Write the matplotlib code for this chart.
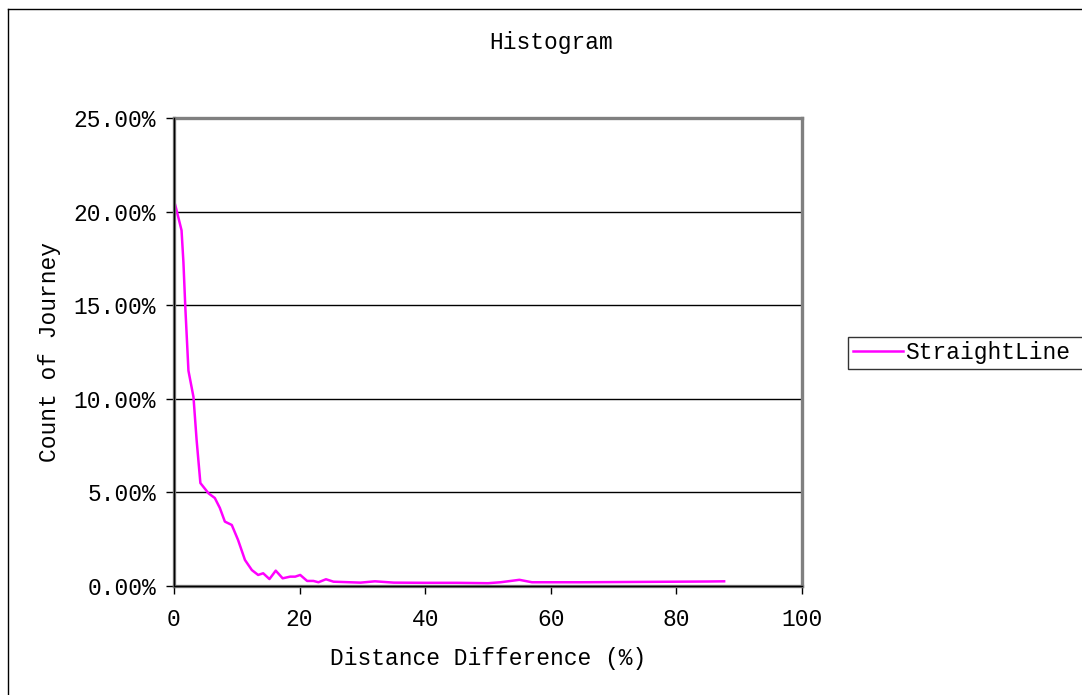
import matplotlib
matplotlib.use("Agg")
import matplotlib.pyplot as plt
from matplotlib.ticker import FuncFormatter
from matplotlib.lines import Line2D

# -- data -------------------------------
dist_diff = [0.2, 1.2, 1.5, 1.8, 2.3, 3.1, 3.6, 4.2, 5.5, 6.5, 7.3, 8.1, 9.2, 10.2,
             11.3, 12.4, 13.4, 14.2, 15.2, 16.2, 17.3, 18.5, 19.3, 20.1, 21.2,
             22.2, 23.0, 24.2, 25.4, 29.7, 32.0, 35, 40, 45, 50, 52, 55, 57,
             60, 65, 70, 75, 80, 85, 87.6]
journey_pct = [20.35, 19.0, 17.3, 14.9, 11.5, 10.1, 7.8, 5.5, 4.95, 4.7, 4.17, 3.44,
               3.26, 2.46, 1.39, 0.85, 0.59, 0.68, 0.37, 0.82, 0.41, 0.5, 0.5,
               0.59, 0.27, 0.27, 0.2, 0.36, 0.23, 0.18, 0.25, 0.18, 0.17, 0.17,
               0.15, 0.2, 0.33, 0.2, 0.2, 0.2, 0.21, 0.22, 0.23, 0.24, 0.25]
series_name = "StraightLine"
x_ticks = [0, 20, 40, 60, 80, 100]
y_ticks = [0, 5, 10, 15, 20, 25]

plt.rcParams['font.family'] = ['Liberation Mono', 'DejaVu Sans Mono']
FS = 16.5

W, H = 1082, 695
fig = plt.figure(figsize=(W / 100, H / 100), dpi=100)

# outer chart border (only left and top visible in the crop)
fig.add_artist(Line2D([7.5 / W, 7.5 / W], [0, 1 - 9 / H], color='black', lw=1,
                      transform=fig.transFigure))
fig.add_artist(Line2D([7.5 / W, 1], [1 - 9 / H, 1 - 9 / H], color='black', lw=1,
                      transform=fig.transFigure))

ax = fig.add_axes([174 / W, 1 - 586 / H, 628 / W, 468 / H])
ax.plot(dist_diff, journey_pct, color='#FF00FF', lw=1.8, label=series_name,
        solid_joinstyle='round')

ax.set_xlim(0, 100)
ax.set_ylim(0, 25)
ax.set_xticks(x_ticks)
ax.set_yticks(y_ticks)
ax.yaxis.set_major_formatter(FuncFormatter(lambda v, p: '%.2f%%' % v))
ax.yaxis.grid(True, color='black', lw=1)
ax.set_axisbelow(True)

for s in ax.spines.values():
    s.set_color('#808080')
    s.set_linewidth(2.4)
ax.tick_params(axis='both', direction='out', length=6, width=1, color='black',
               labelsize=FS)
ax.tick_params(axis='y', pad=7)
ax.tick_params(axis='x', pad=10)
ax.axhline(0, color='black', lw=1, clip_on=False, zorder=3)
ax.axvline(0, color='black', lw=1, clip_on=False, zorder=3)

ax.set_xlabel('Distance Difference (%)', fontsize=FS, labelpad=11)
ax.set_ylabel('Count of Journey', fontsize=FS, labelpad=9)
fig.text(551 / W, 1 - 42 / H, 'Histogram', fontsize=FS, ha='center', va='center')

# legend box runs past the right edge, as in the cropped original
leg = fig.legend(loc='lower left', bbox_to_anchor=(848 / W, 1 - 369 / H, 260 / W, 33 / H),
                 bbox_transform=fig.transFigure, mode='expand', fontsize=FS,
                 frameon=True, fancybox=False, borderpad=0.2, handlelength=2.2,
                 handletextpad=0.1, borderaxespad=0)
leg.get_frame().set_edgecolor('black')
leg.get_frame().set_linewidth(1)

fig.savefig('out.png', dpi=100)
